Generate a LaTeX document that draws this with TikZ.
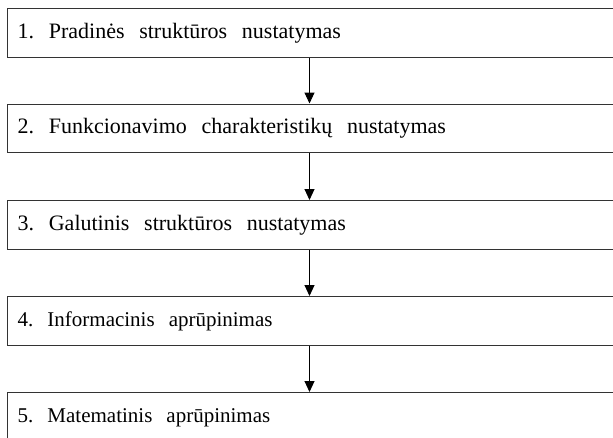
\documentclass[tikz,border=0pt]{standalone}
\usepackage{fontspec}
\setmainfont{Liberation Serif}
\usetikzlibrary{arrows.meta}
\begin{document}
\begin{tikzpicture}[x=1pt,y=1pt,
  stepbox/.style={draw=black!80, line width=1.4pt, rectangle, anchor=north west,
    minimum width=640pt, minimum height=48.5pt, text width=620pt, align=left,
    inner xsep=8pt, text height=15pt, text depth=4pt, font=\fontsize{22}{26}\selectfont},
  smallbox/.style={stepbox, font=\fontsize{21}{25}\selectfont},
  arr/.style={draw=black, line width=1pt, -{Triangle[length=11pt,width=10pt]}}]
\useasboundingbox (0,0) rectangle (613,-437);
\clip (0,0) rectangle (613,-437);
\node[stepbox] (b1) at (7,-8) {1.\ \ Pradinės\ \ struktūros\ \ nustatymas};
\node[stepbox] (b2) at (7,-103.5) {2.\ \ Funkcionavimo\ \ charakteristikų\ \ nustatymas};
\node[stepbox] (b3) at (7,-200) {3.\ \ Galutinis\ \ struktūros\ \ nustatymas};
\node[smallbox] (b4) at (7,-296) {4.\ \ Informacinis\ \ aprūpinimas};
\node[smallbox] (b5) at (7,-392) {5.\ \ Matematinis\ \ aprūpinimas};
\coordinate (ax) at (309.5,0);
\draw[arr] (b1.south -| ax) -- (b2.north -| ax);
\draw[arr] (b2.south -| ax) -- (b3.north -| ax);
\draw[arr] (b3.south -| ax) -- (b4.north -| ax);
\draw[arr] (b4.south -| ax) -- (b5.north -| ax);
\end{tikzpicture}
\end{document}
